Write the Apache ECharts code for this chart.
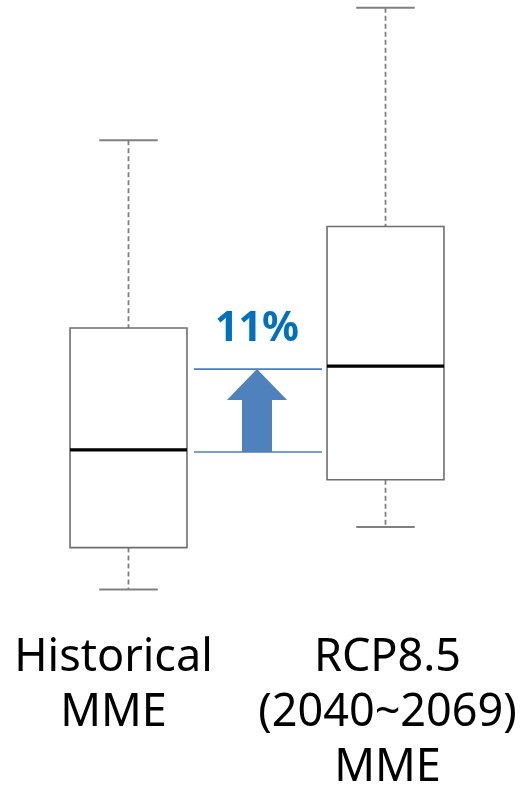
<!DOCTYPE html>
<html>
<head>
<meta charset="utf-8">
<script src="https://cdn.jsdelivr.net/npm/echarts@6/dist/echarts.min.js"></script>
<style>
  html, body { margin: 0; padding: 0; background: #fff; }
  #box-chart { width: 532px; height: 791px; }
</style>
</head>
<body>
<div id="box-chart"></div>
<script>
// categories and box statistics (historical median = 100)
const categories = ['Historical\nMME', 'RCP8.5\n(2040~2069)\nMME'];
const whiskerLow = [81.7, 89.9];
const q1 = [87.2, 96.1];
const median = [100, 111];
const q3 = [116.0, 129.3];
const whiskerHigh = [140.6, 158.0];

let boxData = categories.map((c, i) => [i, whiskerLow[i], q1[i], median[i], q3[i], whiskerHigh[i]]);

let chart = echarts.init(document.getElementById('box-chart'));
window.addEventListener('resize', () => { chart.resize(); });

const grey = '#808080';
const boxRatio = 0.455;

chart.setOption({
  animation: false,
  grid: { left: 0, right: 18, top: 0, bottom: 188.5 },
  xAxis: {
    type: 'category',
    data: categories,
    axisLine: { show: false },
    axisTick: { show: false },
    splitLine: { show: false },
    axisLabel: {
      margin: 28,
      interval: 0,
      formatter: function (val, idx) {
        let tag = idx === 0 ? 'l' : 'r';
        return val.split('\n').map(s => '{' + tag + '|' + s + '}').join('\n');
      },
      rich: {
        l: { fontSize: 45, lineHeight: 55, color: '#000', fontFamily: 'Noto Sans', padding: [0, 30, 0, 0] },
        r: { fontSize: 45, lineHeight: 55, color: '#000', fontFamily: 'Noto Sans', padding: [0, 0, 0, 4] }
      }
    }
  },
  yAxis: {
    type: 'value',
    show: false,
    min: 80,
    max: 159
  },
  series: [
    {
      type: 'custom',
      data: boxData,
      encode: { x: 0, y: [1, 2, 3, 4, 5] },
      clip: false,
      renderItem: function (params, api) {
        let i = api.value(0);
        let pLow = api.coord([i, api.value(1)]);
        let pQ1 = api.coord([i, api.value(2)]);
        let pMed = api.coord([i, api.value(3)]);
        let pQ3 = api.coord([i, api.value(4)]);
        let pHigh = api.coord([i, api.value(5)]);
        let cx = pMed[0];
        let hw = api.size([1, 0])[0] * boxRatio / 2;
        let cap = hw / 2;
        let dash = { stroke: grey, lineWidth: 1.8, lineDash: [5, 3] };
        let solid = { stroke: grey, lineWidth: 2 };
        return {
          type: 'group',
          children: [
            { type: 'line', shape: { x1: cx, y1: pHigh[1], x2: cx, y2: pQ3[1] }, style: dash },
            { type: 'line', shape: { x1: cx, y1: pQ1[1], x2: cx, y2: pLow[1] }, style: dash },
            { type: 'line', shape: { x1: cx - cap, y1: pHigh[1], x2: cx + cap, y2: pHigh[1] }, style: solid },
            { type: 'line', shape: { x1: cx - cap, y1: pLow[1], x2: cx + cap, y2: pLow[1] }, style: solid },
            {
              type: 'rect',
              shape: { x: cx - hw, y: pQ3[1], width: hw * 2, height: pQ1[1] - pQ3[1] },
              style: { fill: '#fff', stroke: '#6e6e6e', lineWidth: 1.6 }
            },
            { type: 'line', shape: { x1: cx - hw, y1: pMed[1], x2: cx + hw, y2: pMed[1] }, style: { stroke: '#000', lineWidth: 3.2 } }
          ]
        };
      }
    },
    {
      // change annotation between the two medians
      type: 'custom',
      data: [[0, median[0], median[1]]],
      encode: { x: 0, y: [1, 2] },
      clip: false,
      renderItem: function (params, api) {
        let p0 = api.coord([0, api.value(1)]);
        let p1 = api.coord([1, api.value(2)]);
        let hw = api.size([1, 0])[0] * boxRatio / 2;
        let xa = p0[0] + hw + 7;
        let xb = p1[0] - hw - 5;
        let xm = (p0[0] + p1[0]) / 2;
        let yTop = p1[1] + 3;
        let yBot = p0[1] + 2;
        let lineStyle = { stroke: '#4a7ebb', lineWidth: 1.6 };
        let pct = Math.round((api.value(2) / api.value(1) - 1) * 100) + '%';
        return {
          type: 'group',
          children: [
            { type: 'line', shape: { x1: xa, y1: yTop, x2: xb, y2: yTop }, style: lineStyle },
            { type: 'line', shape: { x1: xa, y1: yBot, x2: xb, y2: yBot }, style: lineStyle },
            {
              type: 'polygon',
              shape: {
                points: [
                  [xm, yTop], [xm + 30, yTop + 31], [xm + 15, yTop + 31], [xm + 15, yBot],
                  [xm - 15, yBot], [xm - 15, yTop + 31], [xm - 30, yTop + 31]
                ]
              },
              style: { fill: '#4f81bd' }
            },
            {
              type: 'text',
              style: {
                text: pct,
                x: xm,
                y: yTop - 40,
                align: 'center',
                verticalAlign: 'middle',
                fill: '#0070c0',
                fontSize: 41,
                fontWeight: 'bold',
                fontFamily: 'Noto Sans'
              }
            }
          ]
        };
      }
    }
  ]
});
</script>
</body>
</html>
